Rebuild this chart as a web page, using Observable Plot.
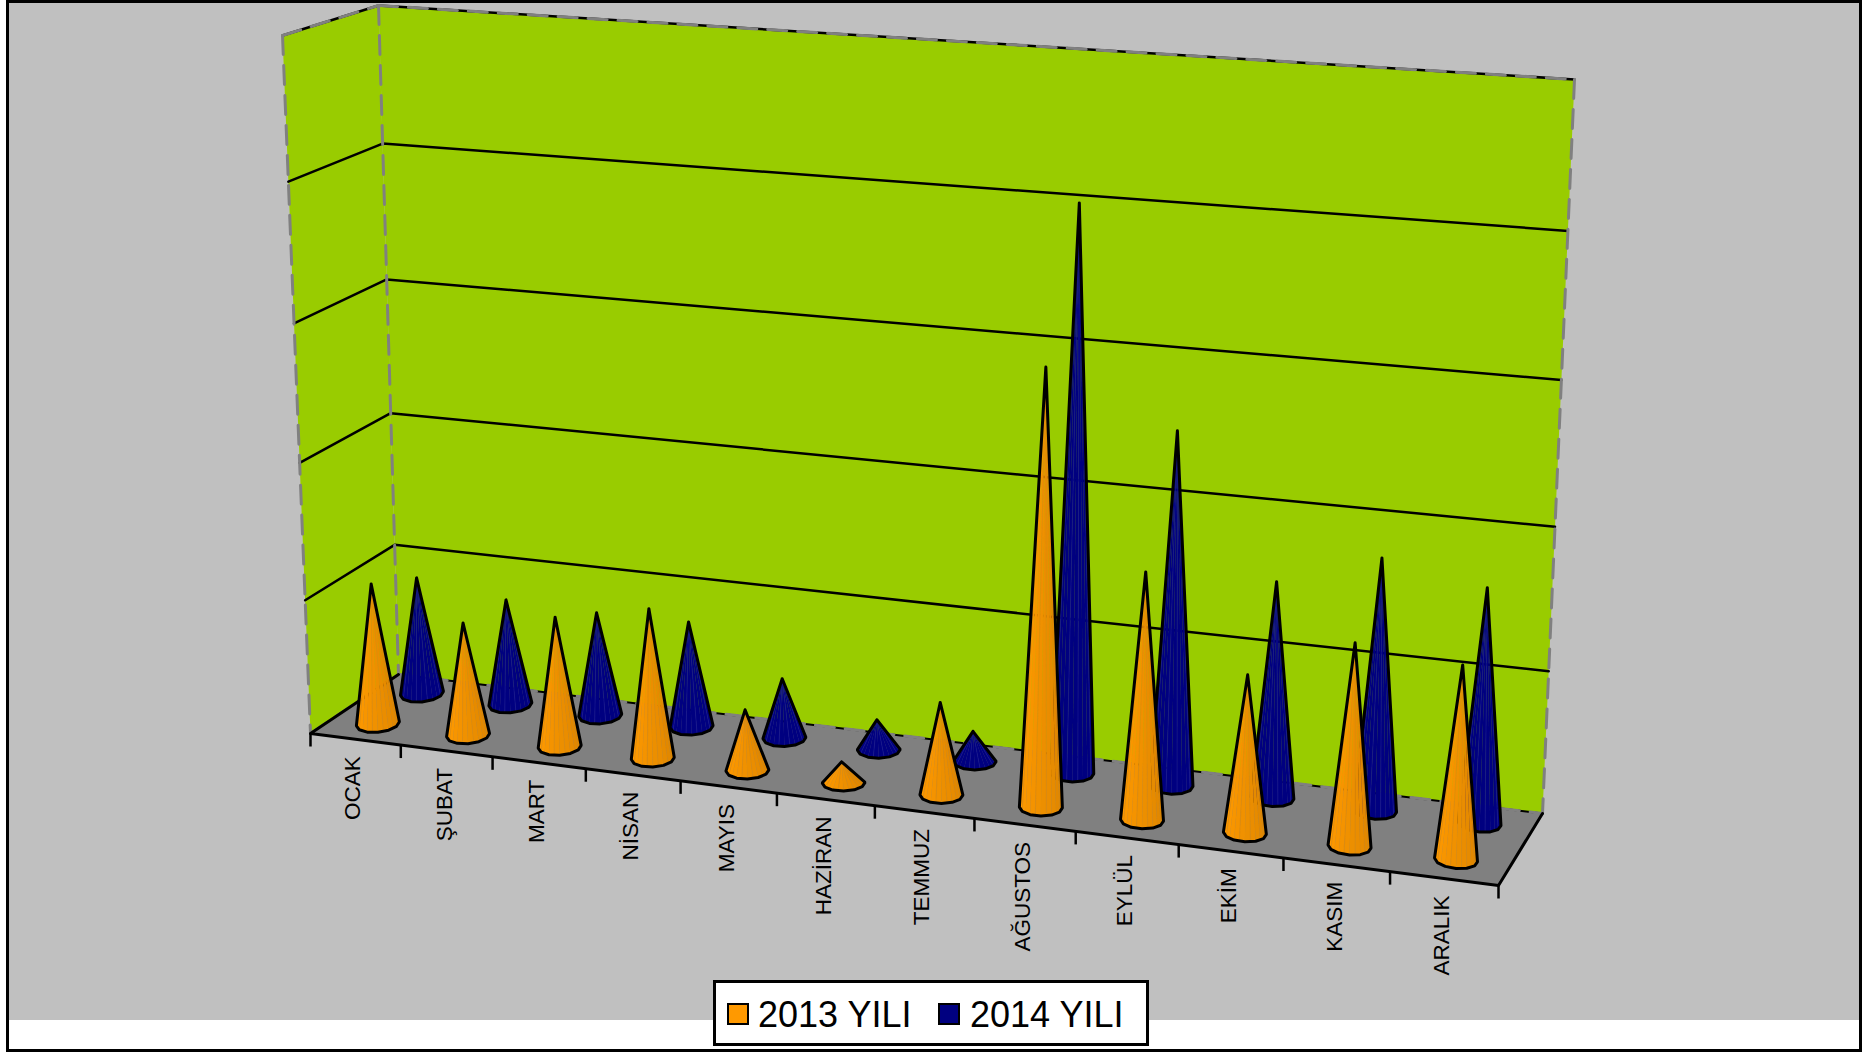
<!DOCTYPE html>
<html lang="tr">
<head>
<meta charset="utf-8">
<title>2013 - 2014</title>
<script src="https://cdn.jsdelivr.net/npm/d3@7"></script>
<script src="https://cdn.jsdelivr.net/npm/@observablehq/plot@0.6"></script>
<style>
html,body{margin:0;padding:0;background:#fff;width:1863px;height:1052px;overflow:hidden;font-family:"Liberation Sans",Arial,sans-serif}
#frame{position:absolute;left:6px;top:0;width:1856px;height:1052px;box-sizing:border-box;border:3px solid #000;background:linear-gradient(#c0c0c0 1017px,#fff 1017px)}
#chart{position:absolute;left:0;top:0}
#legend{position:absolute;left:713px;top:980px;width:436px;height:66px;box-sizing:border-box;border:3px solid #000;background:#fff;color:#000;font-size:36px;line-height:1}
#legend .sw{position:absolute;top:20px;width:22px;height:22px;box-sizing:border-box;border:2px solid #000}
#legend .tx{position:absolute;top:14px;white-space:nowrap}
</style>
</head>
<body>
<div id="frame"></div>
<div id="chart"></div>
<div id="legend"></div>
<script>
const months = ["OCAK","ŞUBAT","MART","NİSAN","MAYIS","HAZİRAN","TEMMUZ","AĞUSTOS","EYLÜL","EKİM","KASIM","ARALIK"];
const seriesNames = ["2013 YILI","2014 YILI"];
const values2013 = [104,83,95,109,44,15,66,306,173,110,140,133];
const values2014 = [88,79,77,78,44,22,22,402,251,153,177,164];
const gridLevels = [100,200,300,400];
const valueMax = 500;

// view of the 3D box (style and layout, not data)
const W = 1863, H = 1052;
const box = {
  fl0:[310,733], fr0:[1498,885], bl0:[398,674], br0:[1542,813],
  fl1:[282,35],  fr1:[1536,119], bl1:[378,5],   br1:[1574,79]
};
const persp = {month:0.105, value:0.04};
const rowDepth = [0.26,0.77];
const coneRx = 21.5, coneRy = 8.5, tipShift = -2, gridFrontDrop = 1.5;
const colors = {wall:"#99cc00", floor:"#808080", dash:"#808080"};
const shades2013 = ["#ff9900","#ff9900","#fb9700","#f79500","#f49300","#f09100","#ec8f00","#ea8d00","#e68b00","#e28800","#de8600","#da8400"];
const shades2014 = Array(12).fill("#000080");
const seamColors = ["#d98a10","#1f1f95"];

const lerp = (a,b,t)=>a+(b-a)*t;
const warpM = t => t/(1+persp.month*(1-t));
const warpV = t => t/(1+persp.value*(1-t));
// month position (0..12), depth (0 front .. 1 back), value -> picture position
function project(m,d,v){
  const u = warpM(m/months.length), h = warpV(v/valueMax);
  const pt = i => {
    const f0 = lerp(box.fl0[i],box.fr0[i],u), b0 = lerp(box.bl0[i],box.br0[i],u);
    const f1 = lerp(box.fl1[i],box.fr1[i],u), b1 = lerp(box.bl1[i],box.br1[i],u);
    return lerp(lerp(f0,b0,d),lerp(f1,b1,d),h);
  };
  return {x:pt(0),y:pt(1),u};
}
const seg = (pts,extra={}) => pts.map(([m,d,v])=>({...project(m,d,v),...extra}));
const N = months.length;
const xy = {x:"x",y:"y"};

const marks = [];
// walls
marks.push(Plot.line(seg([[0,0,0],[0,1,0],[0,1,valueMax],[0,0,valueMax]]),{...xy,fill:colors.wall,stroke:"none"}));
marks.push(Plot.line(seg([[0,1,0],[N,1,0],[N,1,valueMax],[0,1,valueMax]]),{...xy,fill:colors.wall,stroke:"none"}));
// gridlines
for (const g of gridLevels)
  marks.push(Plot.line(seg([[0,0,g-gridFrontDrop],[0,1,g],[N,1,g]]),{...xy,stroke:"#000",strokeWidth:2.5}));
// top edge
marks.push(Plot.line(seg([[0,0,valueMax],[0,1,valueMax],[N,1,valueMax]]),{...xy,stroke:"#000",strokeWidth:2.5}));
// floor
marks.push(Plot.line(seg([[0,0,0],[N,0,0],[N,1,0],[0,1,0]]),{...xy,fill:colors.floor,stroke:"none"}));
marks.push(Plot.line(seg([[0,1,0],[N,1,0]]),{...xy,stroke:"#000",strokeWidth:2}));
// dashed wall borders
const dashes = [
  [[0,0,valueMax],[0,0,0]], [[0,1,valueMax],[0,1,0]], [[N,1,valueMax],[N,1,0]],
  [[0,0,valueMax],[0,1,valueMax]], [[0,1,valueMax],[N,1,valueMax]],
  [[0,1,0],[N,1,0]], [[0,0,0],[0,1,0]]
];
for (const d of dashes)
  marks.push(Plot.line(seg(d),{...xy,stroke:colors.dash,strokeWidth:3,strokeDasharray:"19,11"}));
// front floor edges
marks.push(Plot.line(seg([[0,1,0],[0,0,0],[N,0,0],[N,1,0]]),{...xy,stroke:"#000",strokeWidth:3}));
// month ticks and labels
const tickRows = d3.range(N+1).map(m=>project(m,0,0));
marks.push(Plot.link(tickRows,{x1:"x",x2:"x",y1:"y",y2:d=>d.y+13,stroke:"#000",strokeWidth:2.5}));
const labelRows = months.map((name,i)=>({name,...project(i+0.5,0,0)}));
marks.push(Plot.text(labelRows,{x:d=>d.x+5,y:d=>d.y+17,text:"name",rotate:-90,textAnchor:"end",lineAnchor:"bottom",fontSize:22.5,fill:"#000"}));
// cones, back row first
function cone(m,row,value,shades){
  const c = project(m+0.5,rowDepth[row],0), tip = project(m+0.5,rowDepth[row],value);
  tip.x += tipShift;
  const tilt = -0.1+0.2*c.u;
  const arc = d3.range(shades.length+1).map(i=>{
    const a = Math.PI*(1-i/shades.length), dx = coneRx*Math.cos(a);
    return {x:c.x+dx,y:c.y+coneRy*Math.sin(a)+tilt*dx};
  });
  const facets = shades.flatMap((s,i)=>[
    {x:tip.x,y:tip.y,f:i,shade:s},{x:arc[i].x,y:arc[i].y,f:i,shade:s},{x:arc[i+1].x,y:arc[i+1].y,f:i,shade:s}
  ]);
  const seams = [2,5,7,10].flatMap(i=>[{x:tip.x,y:tip.y,f:i},{x:arc[i].x,y:arc[i].y,f:i}]);
  const outline = [{x:tip.x,y:tip.y},...arc.filter((_,i)=>i%2===0),{x:tip.x,y:tip.y}];
  marks.push(Plot.line(facets,{...xy,z:"f",fill:"shade",stroke:"shade",strokeWidth:0.4}));
  marks.push(Plot.line(seams,{...xy,z:"f",stroke:seamColors[row],strokeWidth:0.7,strokeOpacity:0.8}));
  marks.push(Plot.line(outline,{...xy,stroke:"#000",strokeWidth:3,strokeLinejoin:"bevel"}));
}
values2014.forEach((v,i)=>cone(i,1,v,shades2014));
values2013.forEach((v,i)=>cone(i,0,v,shades2013));

const plot = Plot.plot({
  width:W,height:H,margin:0,
  x:{domain:[0,W],range:[0,W],axis:null},
  y:{domain:[0,H],range:[0,H],axis:null},
  color:{type:"identity"},
  style:{background:"transparent",fontFamily:"'Liberation Sans',Arial,sans-serif",overflow:"visible"},
  marks
});
document.getElementById("chart").appendChild(plot);

// legend
const legend = document.getElementById("legend");
const legendPos = [{sw:11,tx:42},{sw:222,tx:254}];
const swatchColors = ["#ff9900","#000080"];
seriesNames.forEach((name,i)=>{
  const s = document.createElement("div"); s.className="sw"; s.style.left=legendPos[i].sw+"px"; s.style.background=swatchColors[i];
  const t = document.createElement("div"); t.className="tx"; t.style.left=legendPos[i].tx+"px"; t.textContent=name;
  legend.append(s,t);
});
</script>
</body>
</html>
